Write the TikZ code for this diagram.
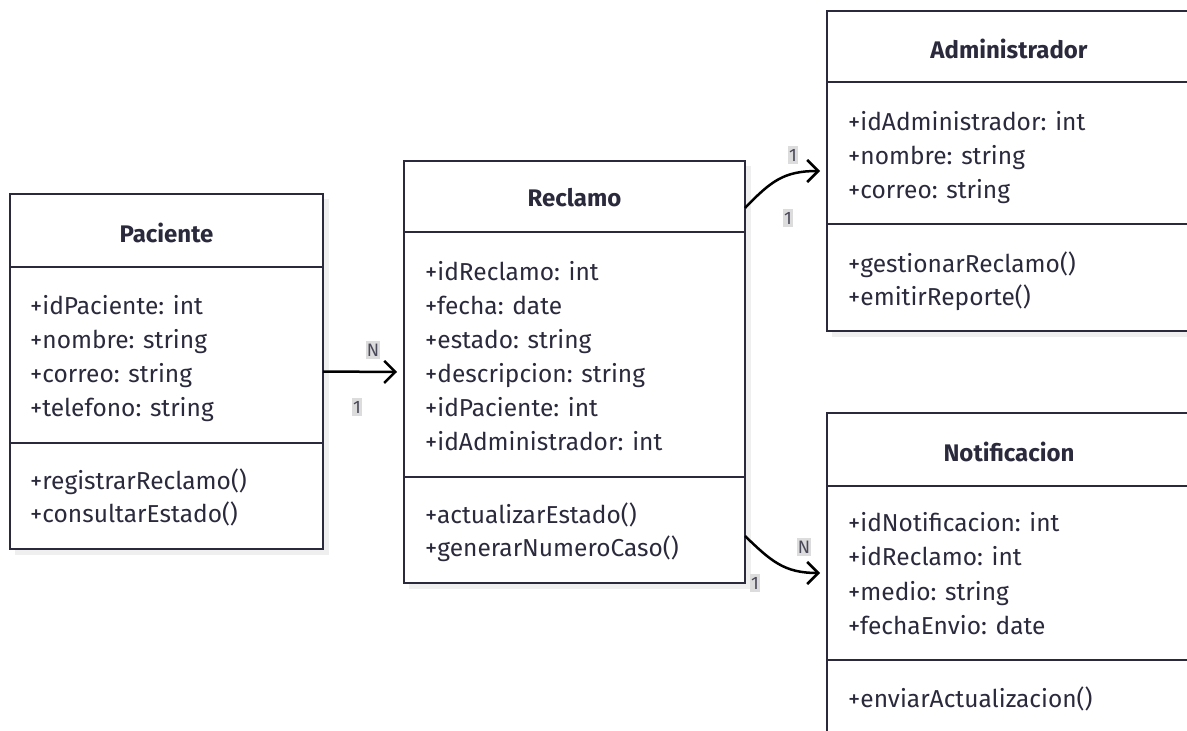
\documentclass[tikz,border=0pt]{standalone}
\usepackage{fontspec}
\setmainfont{Fira Sans}
\usetikzlibrary{arrows.meta,calc}
\definecolor{ink}{HTML}{2B2A3D}
\definecolor{lblbg}{HTML}{DCDCDC}
\definecolor{shadowgray}{HTML}{EFEFEF}

\begin{document}
\begin{tikzpicture}[x=1pt,y=-1pt,
  classbox/.style={draw=ink, line width=2.4pt, fill=white, inner sep=0pt, outer sep=0pt, anchor=north west},
  classtitle/.style={font=\fontsize{24}{28}\selectfont\bfseries, text=ink, inner sep=0pt},
  member/.style={font=\fontsize{24.5}{28}\selectfont, text=ink, anchor=base west, inner sep=0pt},
  divider/.style={draw=ink, line width=2.4pt},
  boxshadow/.style={fill=shadowgray, draw=none},
  link/.style={draw=black, line width=2.5pt, -{Straight Barb[length=11pt,width=22pt]}},
  mult/.style={font=\fontsize{18}{20}\selectfont, fill=lblbg, text=ink!85, inner xsep=1pt, inner ysep=3pt}
]
\useasboundingbox (0,0) rectangle (1187,731);
\clip (0,0) rectangle (1187,731);
\fill[white] (0,0) rectangle (1187,731);

% ---------- Paciente ----------
\fill[boxshadow] (15,199) rectangle (329,555);
\node[classbox, minimum width=313pt, minimum height=355pt] (pac) at (10,194) {};
\draw[divider] ($(pac.north west)+(0,73)$) -- ($(pac.north east)+(0,73)$);
\draw[divider] ($(pac.north west)+(0,249)$) -- ($(pac.north east)+(0,249)$);
\node[classtitle] (pacT) at ($(pac.north)+(0,39)$) {Paciente};
\node[member] (pac1) at (30,314) {+idPaciente: int};
\node[member] (pac2) at (30,348) {+nombre: string};
\node[member] (pac3) at (30,382) {+correo: string};
\node[member] (pac4) at (30,416) {+telefono: string};
\node[member] (pac5) at (30,489) {+registrarReclamo()};
\node[member] (pac6) at (30,522) {+consultarEstado()};

% ---------- Reclamo ----------
\fill[boxshadow] (409,166) rectangle (751,589);
\node[classbox, minimum width=341pt, minimum height=422pt] (rec) at (404,161) {};
\draw[divider] ($(rec.north west)+(0,71)$) -- ($(rec.north east)+(0,71)$);
\draw[divider] ($(rec.north west)+(0,316)$) -- ($(rec.north east)+(0,316)$);
\node[classtitle] (recT) at ($(rec.north)+(0,37)$) {Reclamo};
\node[member] (rec1) at (425,280) {+idReclamo: int};
\node[member] (rec2) at (425,314) {+fecha: date};
\node[member] (rec3) at (425,348) {+estado: string};
\node[member] (rec4) at (425,382) {+descripcion: string};
\node[member] (rec5) at (425,416) {+idPaciente: int};
\node[member] (rec6) at (425,450) {+idAdministrador: int};
\node[member] (rec7) at (425,523) {+actualizarEstado()};
\node[member] (rec8) at (425,556) {+generarNumeroCaso()};

% ---------- Administrador ----------
\fill[boxshadow] (832,16) rectangle (1196,337);
\node[classbox, minimum width=364pt, minimum height=320pt] (adm) at (827,11) {};
\draw[divider] ($(adm.north west)+(0,71)$) -- ($(adm.north east)+(0,71)$);
\draw[divider] ($(adm.north west)+(0,213)$) -- ($(adm.north east)+(0,213)$);
\node[classtitle] (admT) at ($(adm.north)+(0,38)$) {Administrador};
\node[member] (adm1) at (848,130) {+idAdministrador: int};
\node[member] (adm2) at (848,164) {+nombre: string};
\node[member] (adm3) at (848,198) {+correo: string};
\node[member] (adm4) at (848,272) {+gestionarReclamo()};
\node[member] (adm5) at (848,305) {+emitirReporte()};

% ---------- Notificacion ----------
\fill[boxshadow] (832,418) rectangle (1196,820);
\node[classbox, minimum width=364pt, minimum height=400pt] (ntf) at (827,413) {};
\draw[divider] ($(ntf.north west)+(0,73)$) -- ($(ntf.north east)+(0,73)$);
\draw[divider] ($(ntf.north west)+(0,247)$) -- ($(ntf.north east)+(0,247)$);
\node[classtitle] (ntfT) at ($(ntf.north)+(0,39)$) {Notificacion};
\node[member] (ntf1) at (848,531) {+idNotificacion: int};
\node[member] (ntf2) at (848,565) {+idReclamo: int};
\node[member] (ntf3) at (848,600) {+medio: string};
\node[member] (ntf4) at (848,634) {+fechaEnvio: date};
\node[member] (ntf5) at (848,707) {+enviarActualizacion()};

% ---------- associations ----------
\draw[link] (pac.east) -- ($(rec.west)+(-7,0)$);
\node[mult] (m1a) at (373,350) {N};
\node[mult] (m1b) at (357,407) {1};

\draw[link] ($(rec.north east)+(0,47)$) .. controls +(26,-27) and +(-36,0) .. ($(adm.west)+(-7,0)$);
\node[mult] (m2a) at (793,155) {1};
\node[mult] (m2b) at (788,218) {1};

\draw[link] ($(rec.south east)+(0,-47)$) .. controls +(26,25) and +(-36,0) .. ($(ntf.north west)+(-7,160)$);
\node[mult] (m3a) at (804,547) {N};
\node[mult] (m3b) at (755,583) {1};
\end{tikzpicture}
\end{document}
